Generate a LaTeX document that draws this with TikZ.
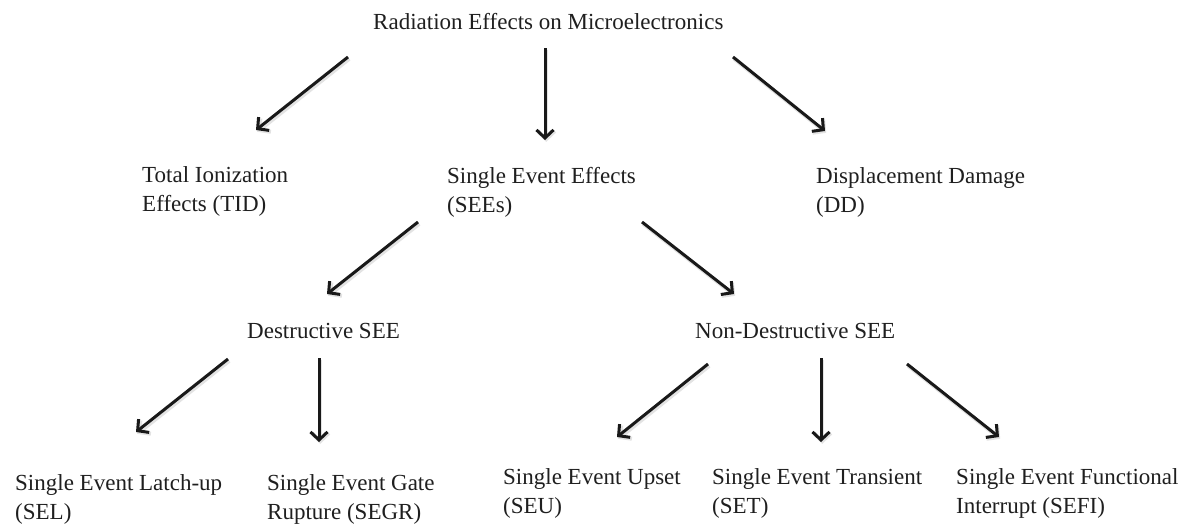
\documentclass[tikz,border=0pt]{standalone}
\usepackage{fontspec}
\setmainfont{Liberation Serif}
\usetikzlibrary{arrows.meta,calc}

\tikzset{
  lbl/.style={anchor=base west, inner sep=0pt, align=left, text=black!88,
    font=\fontsize{23}{29}\selectfont},
  arr/.style={line width=3pt, black!90,
    -{Straight Barb[length=8pt,width=17pt]}},
  arrshade/.style={line width=4pt, black!18, opacity=0.6,
    -{Straight Barb[length=8pt,width=17pt]}}
}

% draw a connector with its soft shadow: #1 start, #2 end
\newcommand{\linkto}[2]{%
  \draw[arrshade, transform canvas={shift={(1.2pt,-1.8pt)}}] #1 -- #2;
  \draw[arr] #1 -- #2;}

\begin{document}
\begin{tikzpicture}[x=1pt, y={(0pt,-1pt)}]
\useasboundingbox[fill=white] (0,0) rectangle (1190,525);

% level 0
\node[lbl] (title) at (373,29) {Radiation Effects on Microelectronics};

% level 1 (two-line labels sit on the baseline of their last line)
\node[lbl] (tid)  at (142,211) {Total Ionization\\Effects (TID)};
\node[lbl] (sees) at (447,212) {Single Event Effects\\(SEEs)};
\node[lbl] (dd)   at (816,212) {Displacement Damage\\(DD)};

% level 2
\node[lbl] (dse)  at (247,338) {Destructive SEE};
\node[lbl] (ndse) at (695,338) {Non-Destructive SEE};

% level 3
\node[lbl] (sel)  at (15,519)  {Single Event Latch-up\\(SEL)};
\node[lbl] (segr) at (267,519) {Single Event Gate\\Rupture (SEGR)};
\node[lbl] (seu)  at (503,513) {Single Event Upset\\(SEU)};
\node[lbl] (set)  at (712,513) {Single Event Transient\\(SET)};
\node[lbl] (sefi) at (956,513) {Single Event Functional\\Interrupt (SEFI)};

% connectors
\linkto{($(title.base west)+(-25,28)$)}{($(tid.base west)+(114,-81)$)}
\linkto{($(title.base west)+(172,19)$)}{($(sees.base west)+(98,-72)$)}
\linkto{($(title.base west)+(360,28)$)}{($(dd.base west)+(9,-81)$)}

\linkto{($(sees.base west)+(-29,10)$)}{($(dse.base west)+(80,-44)$)}
\linkto{($(sees.base west)+(195,10)$)}{($(ndse.base west)+(39,-44)$)}

\linkto{($(dse.base west)+(-19,21)$)}{($(sel.base west)+(121,-87)$)}
\linkto{($(dse.base west)+(72,20)$)}{($(segr.base west)+(52,-77)$)}

\linkto{($(ndse.base west)+(13,26)$)}{($(seu.base west)+(114,-76)$)}
\linkto{($(ndse.base west)+(126,20)$)}{($(set.base west)+(109,-71)$)}
\linkto{($(ndse.base west)+(212,26)$)}{($(sefi.base west)+(43,-76)$)}
\end{tikzpicture}
\end{document}
